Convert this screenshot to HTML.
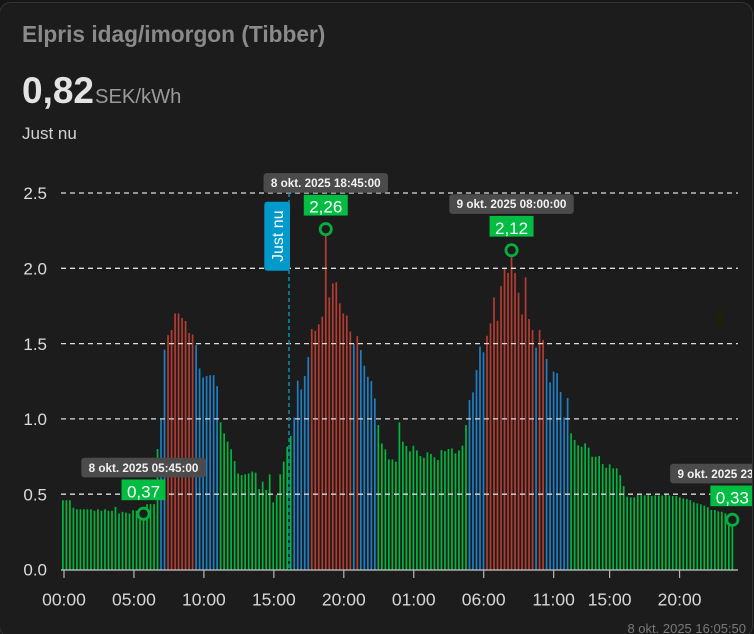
<!DOCTYPE html>
<html lang="sv">
<head>
<meta charset="utf-8">
<title>Elpris idag/imorgon (Tibber)</title>
<style>
html,body{margin:0;padding:0;width:754px;height:634px;overflow:hidden;background:#161616;}
body{position:relative;font-family:"Liberation Sans",sans-serif;}
#card{position:absolute;left:-1px;top:2px;width:752px;height:634px;background:#1c1c1c;border:1px solid #343434;border-radius:12px;box-sizing:content-box;overflow:hidden;}
#title{position:absolute;left:22px;top:22px;font-size:22.7px;line-height:24px;font-weight:bold;color:#8a8a8a;white-space:nowrap;}
#price{position:absolute;left:22px;top:69px;font-size:37px;line-height:44px;font-weight:bold;color:#e3e3e3;white-space:nowrap;}
#unit{position:absolute;left:95px;top:85px;font-size:20.2px;line-height:24px;color:#9a9a9a;white-space:nowrap;}
#sub{position:absolute;left:22px;top:125px;font-size:17px;line-height:18px;color:#d2d2d2;white-space:nowrap;}
#chart{position:absolute;left:0;top:0;}
</style>
</head>
<body>
<div id="card"></div>
<div id="title">Elpris idag/imorgon (Tibber)</div>
<div id="price">0,82</div>
<div id="unit">SEK/kWh</div>
<div id="sub">Just nu</div>
<svg id="chart" width="752" height="634" viewBox="0 0 752 634" xmlns="http://www.w3.org/2000/svg"></svg>
<script>
// Quarter-hour electricity prices (SEK/kWh), 8 okt 00:00 to 9 okt 23:45
const prices = [
0.46,0.46,0.46,0.41,0.40,0.40,0.40,0.40,0.40,0.39,0.40,0.39,0.40,0.39,0.39,0.416,
0.372,0.383,0.378,0.372,0.394,0.39,0.38,0.37,0.434,0.434,0.434,0.80,1.00,1.46,1.556,1.59,
1.70,1.70,1.67,1.65,1.57,1.56,1.49,1.335,1.275,1.284,1.29,1.29,1.217,0.977,0.904,0.849,
0.798,0.72,0.638,0.627,0.632,0.638,0.65,0.643,0.534,0.583,0.528,0.632,0.446,0.495,0.632,0.716,
0.816,0.887,1.01,1.254,1.196,1.285,1.41,1.597,1.586,1.628,1.679,2.26,1.807,1.90,1.907,1.767,
1.70,1.686,1.58,1.497,1.55,1.457,1.353,1.28,1.251,1.136,0.959,0.837,0.798,0.731,0.731,0.716,
0.977,0.849,0.82,0.785,0.822,0.791,0.754,0.742,0.778,0.767,0.745,0.727,0.793,0.786,0.80,0.804,
0.771,0.791,0.822,0.959,1.125,1.176,1.324,1.479,1.442,1.552,1.634,1.807,1.652,1.882,2.004,1.97,
2.12,1.97,1.838,1.694,1.94,1.663,1.59,1.473,1.59,1.524,1.398,1.243,1.314,1.303,1.179,1.01,
1.139,0.904,0.86,0.825,0.815,0.838,0.809,0.749,0.749,0.754,0.70,0.676,0.698,0.672,0.672,0.627,
0.554,0.484,0.479,0.479,0.494,0.494,0.492,0.494,0.488,0.492,0.492,0.492,0.497,0.492,0.488,0.488,
0.479,0.472,0.468,0.461,0.446,0.439,0.433,0.424,0.413,0.395,0.395,0.386,0.384,0.373,0.366,0.33
];
const yTicks = [0, 0.5, 1, 1.5, 2, 2.5];
const yTickLabels = ["0.0", "0.5", "1.0", "1.5", "2.0", "2.5"];
const xTickHours = [0, 5, 10, 15, 20, 25, 30, 35, 39, 44];
const xTickLabels = ["00:00", "05:00", "10:00", "15:00", "20:00", "01:00", "06:00", "11:00", "15:00", "20:00"];
const annotatedIndexes = [23, 75, 128, 191];
const annotatedTimes = ["8 okt. 2025 05:45:00", "8 okt. 2025 18:45:00", "9 okt. 2025 08:00:00", "9 okt. 2025 23:45:00"];
const nowHour = 16.083;
const nowLabel = "Just nu";
const updatedLabel = "8 okt. 2025 16:05:50";
const lowThreshold = 1.0;
const highThreshold = 1.5;

const svg = document.getElementById('chart');
const NS = 'http://www.w3.org/2000/svg';
function yScale(v) { return 569.5 - v * 150.6; }
function xBar(i) { return 62.9 + i * 3.505; }
function xTick(h) { return 64 + h * 13.99; }
function make(tag, attrs, text) {
  const el = document.createElementNS(NS, tag);
  for (const k in attrs) el.setAttribute(k, attrs[k]);
  if (text !== undefined) el.textContent = text;
  svg.appendChild(el);
  return el;
}
function barColor(v) {
  if (v >= highThreshold) return '#b53c30';
  if (v >= lowThreshold) return '#1d7fc6';
  return '#02b63e';
}

const smudge = make('rect', {x: 717.5, y: 309, width: 4.5, height: 17, fill: '#212100'});



prices.forEach(function (v, i) {
  const bar = make('rect', {x: xBar(i) - 0.85, y: yScale(v), width: 1.7, height: 569.5 - yScale(v), fill: barColor(v)});
  
  
});

yTicks.forEach(function (v, i) {
  if (v > 0) {
    const grid = make('line', {x1: 61, x2: 738, y1: yScale(v), y2: yScale(v), stroke: '#dcdcdc', 'stroke-width': 1.3, 'stroke-dasharray': '5 4'});
    
    
  }
  const lab = make('text', {x: 47, y: yScale(v) + 6.2, 'text-anchor': 'end', 'font-size': 17, fill: '#dcdcdc'}, yTickLabels[i]);
  
  
});

const axis = make('line', {x1: 61, x2: 738, y1: 570, y2: 570, stroke: '#c8c8c8', 'stroke-width': 1.3});



xTickHours.forEach(function (h, i) {
  const t = make('line', {x1: xTick(h), x2: xTick(h), y1: 570, y2: 578, stroke: '#b8b8b8', 'stroke-width': 1.2});
  
  
  const lab = make('text', {x: xTick(h), y: 605.5, 'text-anchor': 'middle', 'font-size': 17.5, fill: '#d6d6d6'}, xTickLabels[i]);
  
  
});

const nowX = xTick(nowHour);
const nowLine = make('line', {x1: nowX, x2: nowX, y1: 193, y2: 570, stroke: '#0a8fb5', 'stroke-width': 1.5, 'stroke-dasharray': '4 3'});


const nowBox = make('rect', {x: nowX - 24.7, y: 201.7, width: 25.7, height: 69, rx: 3, fill: '#029acb'});


const nowText = make('text', {x: 0, y: 0, transform: 'translate(' + (nowX - 6) + ',236.2) rotate(-90)', 'text-anchor': 'middle', 'font-size': 16, fill: '#ffffff'}, nowLabel);



annotatedIndexes.forEach(function (idx, n) {
  const cx = xBar(idx);
  const cy = yScale(prices[idx]);
  const dot = make('circle', {cx: cx, cy: cy, r: 5.6, fill: '#1c1c1c', stroke: '#08ad3e', 'stroke-width': 2.8});
  
  
  const tip = make('rect', {x: cx - 62.2, y: cy - 56, width: 124.4, height: 19.6, rx: 3, fill: '#4b4b4b'});
  
  
  const tipText = make('text', {x: cx, y: cy - 42, 'text-anchor': 'middle', 'font-size': 11.7, 'font-weight': 'bold', fill: '#f2f2f2'}, annotatedTimes[n]);
  
  
  const box = make('rect', {x: cx - 22, y: cy - 34.3, width: 44, height: 20.7, fill: '#02bd42'});
  
  
  const val = make('text', {x: cx, y: cy - 16.4, 'text-anchor': 'middle', 'font-size': 17, fill: '#ffffff'}, prices[idx].toFixed(2).replace('.', ','));
  
  
});

const stamp = make('text', {x: 746, y: 633, 'text-anchor': 'end', 'font-size': 13, fill: '#787878'}, updatedLabel);


</script>
</body>
</html>
